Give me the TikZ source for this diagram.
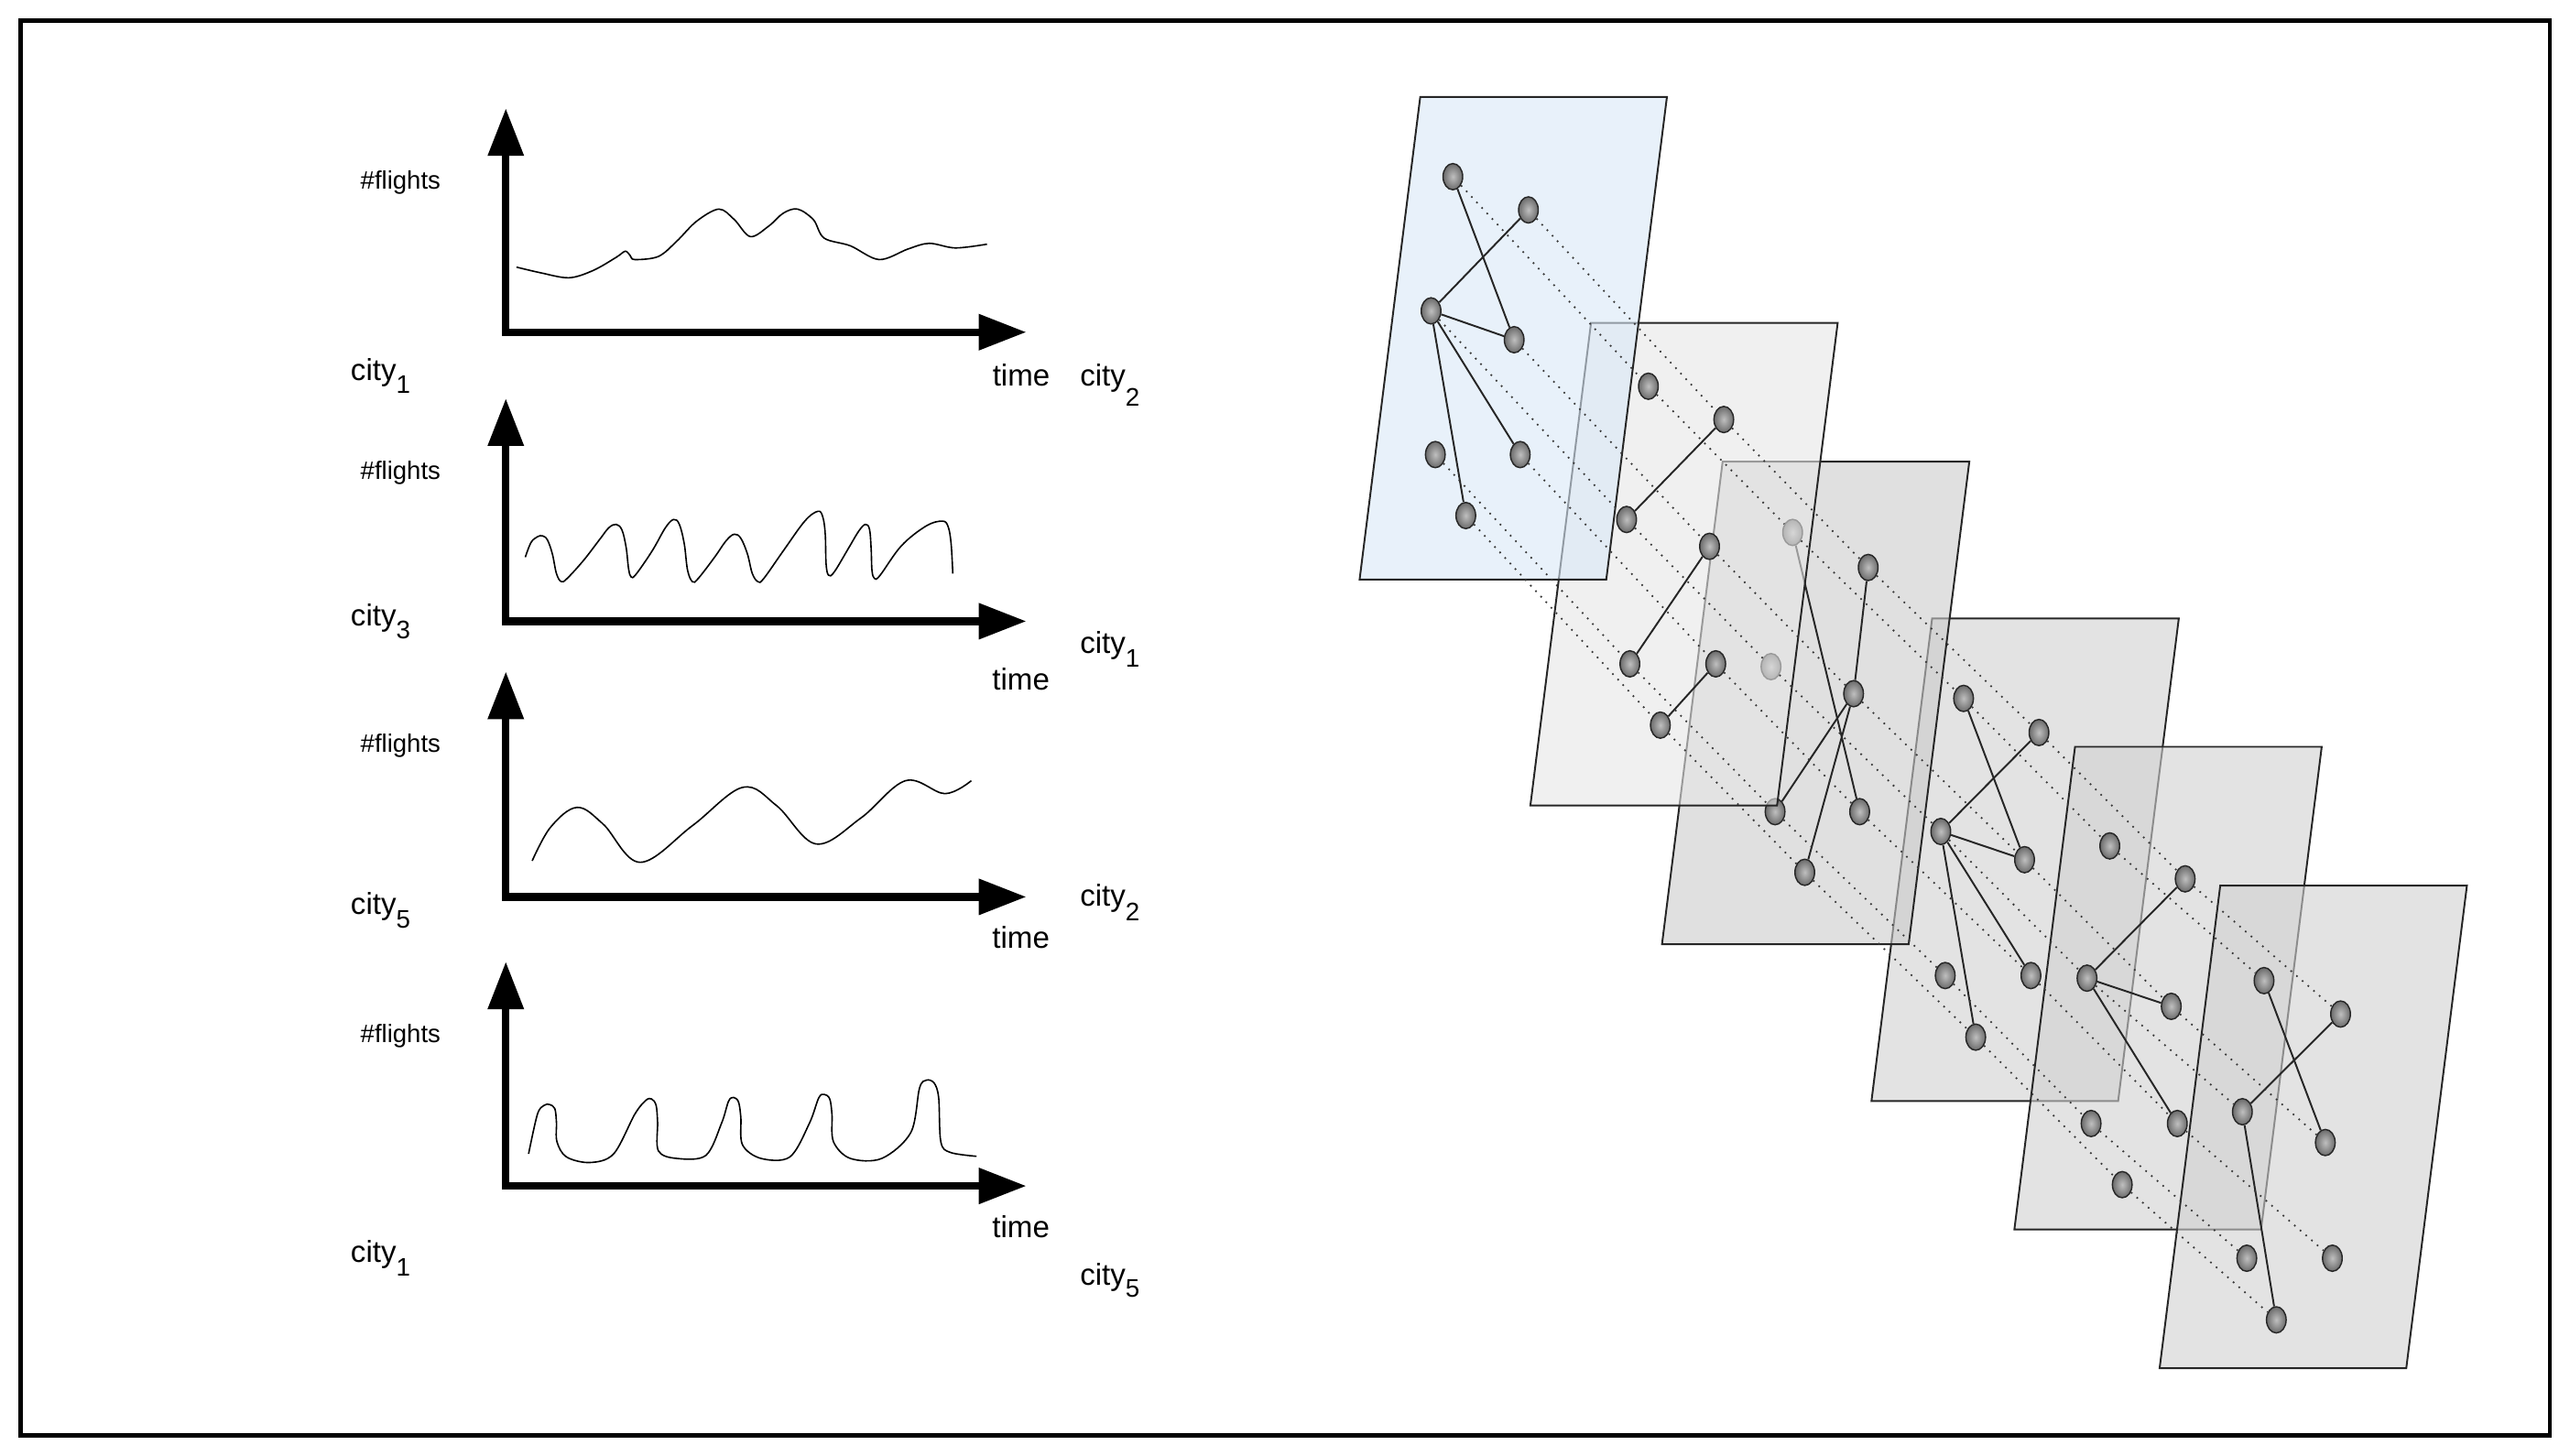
\documentclass[tikz,border=0pt]{standalone}
\usepackage{fontspec}
\newfontfamily\lab{Liberation Sans}
\usetikzlibrary{arrows.meta,shapes.geometric}
\definecolor{planeblue}{HTML}{D9E8F7}
\definecolor{planeg2}{HTML}{E6E6E6}
\definecolor{planeg3}{HTML}{CBCBCB}
\definecolor{planeg}{HTML}{D0D0D0}
\newcommand\cty[2]{city\raisebox{-#2pt}{\fontsize{15.5}{16}\selectfont #1}}
\newcommand\drawplane[2]{\draw[plane,#2] (#1) -- ++(150.5,0) -- ++(-37,294.5) -- ++(-150.5,0) -- cycle;}
\begin{document}
\begin{tikzpicture}[x=1pt,y=-1pt,
  lbl/.style={anchor=base west, inner sep=0pt, outer sep=0pt, font=\lab\fontsize{18.5}{21}\selectfont},
  flt/.style={anchor=base west, inner sep=0pt, outer sep=0pt, font=\lab\fontsize{15.4}{18}\selectfont},
  axis/.style={line width=4.6pt, line join=miter, {Triangle[length=29pt,width=21pt]}-{Triangle[length=29pt,width=21pt]}},
  curve/.style={line width=0.9pt},
  gnode/.style={ellipse, minimum width=12pt, minimum height=16pt, inner sep=0pt, draw=black!85, line width=0.8pt, inner color=black!25, outer color=black!58},
  edge/.style={line width=1.1pt, black!85},
  dots/.style={line width=1pt, black!78, dash pattern=on 1pt off 3.6pt},
  plane/.style={draw=black!85, line width=1.1pt, fill opacity=0.6}
]
\useasboundingbox (0,0) rectangle (1568,888);
\draw[line width=2.6pt] (12.6,12.6) rectangle (1555.6,875.8);

% ---------- charts ----------
\coordinate (o1) at (308.6,202.7); \coordinate (y1) at (308.6,66.1); \coordinate (x1) at (626.2,202.7);
\coordinate (o2) at (308.6,379.1); \coordinate (y2) at (308.6,243.1); \coordinate (x2) at (626.2,379.1);
\coordinate (o3) at (308.6,547.3); \coordinate (y3) at (308.6,409.8); \coordinate (x3) at (626.2,547.3);
\coordinate (o4) at (308.6,723.7); \coordinate (y4) at (308.6,586.8); \coordinate (x4) at (626.2,723.7);
\foreach \k in {1,2,3,4} {\draw[axis] (y\k) -- (o\k) -- (x\k);}

\draw[curve] plot[smooth, tension=0.55] coordinates {(315.1,163.0) (330,166.5) (347.2,169.5) (362,165) (376,157) (381.5,153.3) (384.5,156) (387.3,158.4) (401.7,156.5) (412.9,147.2) (425,135) (438.6,127.6) (448,134) (457.8,144.4) (469.1,137.9) (478,130) (486.7,127.6) (496.3,134.1) (502.8,145.3) (518.8,150.0) (536.4,158.4) (554.1,151.9) (566.9,148.5) (582.9,151.3) (602.2,149.0)};

\draw[curve] plot[smooth, tension=0.6] coordinates {(320.5,340) (324,331) (328,327.5) (331,327) (334,329.5) (337,338) (339.5,350) (342.4,354.9) (346,353) (356,342) (366,329) (371.5,322) (376,320) (379.5,323.5) (382,334) (383.5,347) (385,352) (388,350.5) (398,336) (406,322) (411,317) (414.5,320) (417.5,332) (419.5,348) (422.5,355) (426,353) (436,340) (443,330) (448,326) (452,328.5) (456,338) (459,350) (462.5,355) (466,353) (478,336) (491,318) (499,312) (502,315.5) (503.5,326) (504,344) (505.5,351) (509,349) (518,334) (524,324) (528,320) (530.5,323) (531.5,335) (532,348) (533.5,353) (537,351) (550,333) (565,321) (575,318) (578.5,321.5) (580.3,332) (581.3,350)};

\draw[curve] plot[smooth, tension=0.6] coordinates {(324.7,525.3) (335.9,504.8) (352.0,492.7) (368.0,502.9) (390.5,526.2) (422.5,503.8) (453.0,480.5) (473.9,491.7) (497.9,515.0) (525.2,499.2) (552.5,476.4) (576.5,484.3) (592.6,476.4)};

\draw[curve] plot[smooth, tension=0.55] coordinates {(322.5,704.1) (327.9,679.9) (332,674.5) (335.3,674.0) (338.5,676.5) (339.5,685) (339.8,696.7) (345.6,706.0) (360.0,709.4) (374.4,704.1) (387.3,679.9) (394,671.5) (397.5,670.6) (400.3,674.5) (401.2,685) (401.7,702.3) (412.9,706.9) (430.6,705.1) (440.2,685.5) (444.5,672) (447.6,669.7) (450.6,672.5) (452,682) (453.0,698.6) (464.3,706.9) (481.9,706.0) (493.8,685.5) (499.5,670) (502.8,667.8) (506.2,670.5) (507.6,680) (508.5,696.7) (518.8,706.9) (538.0,706.9) (555.7,691.1) (561,664) (565.3,659.1) (570,661) (572.7,670) (574.0,696.7) (579.7,703.2) (595.8,705.6)};

\node[flt] (f1) at (220,115.5) {\#flights};
\node[lbl] (c1a) at (214,232) {\cty{1}{8}};
\node[lbl] (t1) at (605.6,235.6) {time};
\node[lbl] (c1b) at (659,235.6) {\cty{2}{12}};
\node[flt] (f2) at (220,292.4) {\#flights};
\node[lbl] (c2a) at (214,381.8) {\cty{3}{8.2}};
\node[lbl] (c2b) at (659,398.6) {\cty{1}{8.4}};
\node[lbl] (t2) at (605.4,420.8) {time};
\node[flt] (f3) at (220,459.2) {\#flights};
\node[lbl] (c3a) at (214,557.9) {\cty{5}{8.4}};
\node[lbl] (c3b) at (659,553.2) {\cty{2}{8.4}};
\node[lbl] (t3) at (605.4,578.4) {time};
\node[flt] (f4) at (220,636.1) {\#flights};
\node[lbl] (t4) at (605.4,755.3) {time};
\node[lbl] (c4a) at (214,770.2) {\cty{1}{8.4}};
\node[lbl] (c4b) at (659,784.2) {\cty{5}{7.5}};

% ---------- planes (back to front) ----------
\coordinate (p1) at (866.5,59.2);
\coordinate (p2) at (970.7,197);
\coordinate (p3) at (1051,281.7);
\coordinate (p4) at (1178.8,377.4);
\coordinate (p5) at (1266,455.7);
\coordinate (p6) at (1354.6,540.4);

% plane 4
\drawplane{p4}{fill=planeg}
\node[gnode] (a4) at (1198,426.2) {};
\node[gnode] (b4) at (1244,447) {};
\node[gnode] (c4) at (1184.1,507.4) {};
\node[gnode] (d4) at (1235.2,524.6) {};
\node[gnode] (e4) at (1186.8,595.3) {};
\node[gnode] (f4n) at (1239.1,595.3) {};
\node[gnode] (g4) at (1205.4,632.9) {};
\draw[edge] (a4) -- (d4);
\draw[edge] (c4) -- (b4);
\draw[edge] (c4) -- (d4);
\draw[edge] (c4) -- (f4n);
\draw[edge] (c4) -- (g4);

% plane 5
\drawplane{p5}{fill=planeg}
\node[gnode] (a5) at (1287.2,516.2) {};
\node[gnode] (b5) at (1333.2,536.3) {};
\node[gnode] (c5) at (1273.3,596.9) {};
\node[gnode] (d5) at (1324.7,614.1) {};
\node[gnode] (e5) at (1275.8,685.6) {};
\node[gnode] (f5n) at (1328.4,685.6) {};
\node[gnode] (g5) at (1294.8,722.9) {};
\draw[edge] (c5) -- (b5);
\draw[edge] (c5) -- (d5);
\draw[edge] (c5) -- (f5n);

% plane 6
\drawplane{p6}{fill=planeg}
\node[gnode] (a6) at (1381.3,598.4) {};
\node[gnode] (b6) at (1428,618.8) {};
\node[gnode] (c6) at (1368.1,678.4) {};
\node[gnode] (d6) at (1418.7,697.2) {};
\node[gnode] (e6) at (1370.8,767.8) {};
\node[gnode] (f6n) at (1423,767.8) {};
\node[gnode] (g6) at (1388.8,805.4) {};
\draw[edge] (a6) -- (d6);
\draw[edge] (c6) -- (b6);
\draw[edge] (c6) -- (g6);

% plane 3
\drawplane{p3}{fill=planeg3}
\node[gnode] (a3) at (1093.7,324.9) {};
\node[gnode] (b3) at (1139.8,346.3) {};
\node[gnode] (c3) at (1080.5,406.8) {};
\node[gnode] (d3) at (1130.9,423.3) {};
\node[gnode] (e3) at (1083,495.3) {};
\node[gnode] (f3n) at (1134.6,495.3) {};
\node[gnode] (g3) at (1101.1,532.3) {};
\draw[edge] (a3) -- (f3n);
\draw[edge] (b3) -- (d3);
\draw[edge] (d3) -- (e3);
\draw[edge] (d3) -- (g3);

% plane 2
\drawplane{p2}{fill=planeg2}
\node[gnode] (a2) at (1005.7,235.7) {};
\node[gnode] (b2) at (1051.7,256) {};
\node[gnode] (c2) at (992.4,317) {};
\node[gnode] (d2) at (1043,333.4) {};
\node[gnode] (e2) at (994.4,405.1) {};
\node[gnode] (f2n) at (1046.8,405.1) {};
\node[gnode] (g2) at (1013,442.5) {};
\draw[edge] (c2) -- (b2);
\draw[edge] (d2) -- (e2);
\draw[edge] (f2n) -- (g2);

% plane 1
\drawplane{p1}{fill=planeblue}
\node[gnode] (a1) at (886.4,107.8) {};
\node[gnode] (b1) at (932.5,128.1) {};
\node[gnode] (c1) at (873.1,189.7) {};
\node[gnode] (d1) at (923.8,207.3) {};
\node[gnode] (e1) at (875.7,277.4) {};
\node[gnode] (f1n) at (927.5,277.4) {};
\node[gnode] (g1) at (894.3,314.6) {};
\draw[edge] (a1) -- (d1);
\draw[edge] (c1) -- (b1);
\draw[edge] (c1) -- (d1);
\draw[edge] (c1) -- (f1n);
\draw[edge] (c1) -- (g1);

% dotted correspondences
\foreach \l in {a,b,c,d,e,g} {
  \foreach \i/\j in {1/2,2/3,3/4,4/5,5/6} {\draw[dots] (\l\i) -- (\l\j);}
}
\foreach \i/\j in {1/2,2/3,3/4,4/5,5/6} {\draw[dots] (f\i n) -- (f\j n);}
\end{tikzpicture}
\end{document}
